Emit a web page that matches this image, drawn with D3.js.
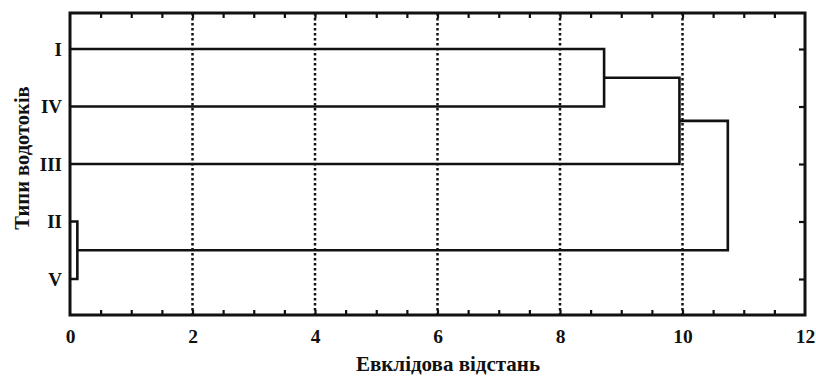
<!DOCTYPE html>
<html><head><meta charset="utf-8">
<script src="https://cdn.jsdelivr.net/npm/d3@7"></script>
<style>body{margin:0;background:#fff}svg{display:block}</style>
</head><body>
<script>
const leaves = ["I", "IV", "III", "II", "V"];
const mergeLeft  = ["I",    "I+IV",  "II",  "I+IV+III"];
const mergeRight = ["IV",   "III",   "V",   "II+V"];
const mergeName  = ["I+IV", "I+IV+III", "II+V", "ALL"];
const mergeDist  = [8.72,   9.95,    0.12,  10.74];
const xTicks = [0, 2, 4, 6, 8, 10, 12];
const xTitle = "Евклідова відстань";
const yTitle = "Типи водотоків";

const W = 816, H = 378;
const m = {l: 70, r: 11, t: 13, b: 63};
const svg = d3.select("body").append("svg").attr("width", W).attr("height", H);
const x = d3.scaleLinear().domain([0, 12]).range([m.l, W - m.r]);
const y = d3.scalePoint().domain(leaves).range([m.t, H - m.b]).padding(0.626);
const font = "'Liberation Serif', 'Times New Roman', serif";

// grid
svg.append("g").selectAll("line").data(xTicks.filter(d => d > 0 && d < 12)).join("line")
  .attr("x1", d => x(d)).attr("x2", d => x(d)).attr("y1", m.t).attr("y2", H - m.b)
  .attr("stroke", "#111").attr("stroke-width", 2.5).attr("stroke-dasharray", "2.5,2.5");

// minor ticks (top & bottom, inward)
const minor = d3.range(0.5, 12, 0.5);
svg.append("g").attr("transform", `translate(0,${H - m.b})`)
  .call(d3.axisBottom(x).tickValues(minor).tickSize(-5).tickFormat(""))
  .call(g => g.select(".domain").remove())
  .selectAll("line").attr("stroke", "#111").attr("stroke-width", 2.2);
svg.append("g").attr("transform", `translate(0,${m.t})`)
  .call(d3.axisTop(x).tickValues(minor).tickSize(-5).tickFormat(""))
  .call(g => g.select(".domain").remove())
  .selectAll("line").attr("stroke", "#111").attr("stroke-width", 2.2);
// right ticks
svg.append("g").attr("transform", `translate(${W - m.r},0)`)
  .call(d3.axisRight(y).tickSize(-6).tickFormat(""))
  .call(g => g.select(".domain").remove())
  .selectAll("line").attr("stroke", "#111").attr("stroke-width", 2.2);

// x labels
svg.append("g").attr("transform", `translate(0,${H - m.b})`)
  .call(d3.axisBottom(x).tickValues(xTicks).tickSize(0).tickPadding(14).tickFormat(d3.format("d")))
  .call(g => g.select(".domain").remove())
  .selectAll("text").attr("font-family", font).attr("font-weight", "bold")
  .attr("font-size", 19.5).attr("fill", "#111");
// y labels
svg.append("g").attr("transform", `translate(${m.l},0)`)
  .call(d3.axisLeft(y).tickSize(0).tickPadding(8))
  .call(g => g.select(".domain").remove())
  .selectAll("text").attr("font-family", font).attr("font-weight", "bold")
  .attr("font-size", 19).attr("fill", "#111");

// dendrogram
const pos = {};
leaves.forEach(l => pos[l] = {x: 0, y: y(l)});
const g = svg.append("g").attr("fill", "none").attr("stroke", "#111").attr("stroke-width", 2.6);
mergeDist.forEach((d, i) => {
  const a = pos[mergeLeft[i]], b = pos[mergeRight[i]];
  const path = d3.path();
  path.moveTo(x(a.x), a.y); path.lineTo(x(d), a.y); path.lineTo(x(d), b.y); path.lineTo(x(b.x), b.y);
  g.append("path").attr("d", path.toString());
  pos[mergeName[i]] = {x: d, y: (a.y + b.y) / 2};
});

// frame
svg.append("rect").attr("x", m.l).attr("y", m.t).attr("width", W - m.r - m.l).attr("height", H - m.b - m.t)
  .attr("fill", "none").attr("stroke", "#111").attr("stroke-width", 3);

// titles
svg.append("text").attr("x", 448).attr("y", 371).attr("text-anchor", "middle")
  .attr("font-family", font).attr("font-weight", "bold").attr("font-size", 21).attr("fill", "#111").text(xTitle);
svg.append("text").attr("transform", `translate(29,158) rotate(-90)`).attr("text-anchor", "middle")
  .attr("font-family", font).attr("font-weight", "bold").attr("font-size", 20.5).attr("fill", "#111").text(yTitle);
</script>
</body></html>
